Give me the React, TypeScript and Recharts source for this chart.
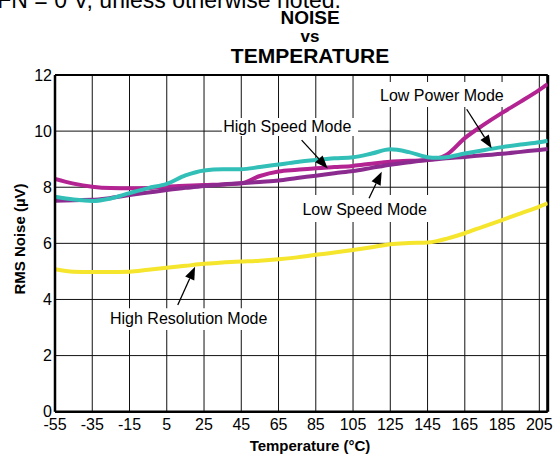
import React from 'react';
import { LineChart, Line, XAxis, YAxis, CartesianGrid, ReferenceLine, ReferenceArea } from 'recharts';

// Temperature (°C) sample points
const temperatures = [-55, -45, -35, -25, -15, -5, 5, 15, 25, 35, 45, 55, 65, 75, 85, 95, 105, 115, 125, 135, 145, 150, 155, 165, 175, 185, 195, 205, 209.5];

// RMS noise (µV) per mode
const lowPowerNoise = [7.66, 7.56, 7.51, 7.6, 7.79, 7.97, 8.12, 8.42, 8.6, 8.64, 8.64, 8.72, 8.81, 8.9, 8.97, 9.03, 9.07, 9.2, 9.35, 9.25, 9.07, 9.05, 9.07, 9.2, 9.32, 9.43, 9.52, 9.6, 9.66];
const highSpeedNoise = [8.3, 8.13, 8.02, 7.97, 7.96, 7.97, 8.02, 8.05, 8.08, 8.1, 8.14, 8.4, 8.56, 8.62, 8.68, 8.72, 8.76, 8.84, 8.91, 8.94, 8.97, 9.02, 9.15, 9.75, 10.22, 10.65, 11.05, 11.47, 11.68];
const lowSpeedNoise = [7.52, 7.54, 7.55, 7.62, 7.72, 7.81, 7.9, 7.98, 8.04, 8.1, 8.14, 8.19, 8.24, 8.33, 8.41, 8.5, 8.58, 8.69, 8.8, 8.89, 8.97, 9.0, 9.03, 9.08, 9.14, 9.19, 9.26, 9.33, 9.36];
const highResolutionNoise = [5.08, 4.99, 4.98, 4.98, 4.99, 5.06, 5.13, 5.2, 5.27, 5.32, 5.35, 5.38, 5.43, 5.5, 5.59, 5.67, 5.76, 5.86, 5.97, 6.01, 6.03, 6.08, 6.16, 6.36, 6.6, 6.83, 7.07, 7.31, 7.43];

const xTicks = [-55, -35, -15, 5, 25, 45, 65, 85, 105, 125, 145, 165, 185, 205];
const yTicks = [0, 2, 4, 6, 8, 10, 12];

const data = temperatures.map((t, i) => ({
  t,
  lowPower: lowPowerNoise[i],
  highSpeed: highSpeedNoise[i],
  lowSpeed: lowSpeedNoise[i],
  highRes: highResolutionNoise[i],
}));

const FONT = '"Liberation Sans", Arial, Helvetica, sans-serif';
const X_MIN = -55;
const X_MAX = 209.5;

// Annotation callouts (label box in data coords, arrow from/to in data coords)
const annotations = [
  { text: 'High Speed Mode', x1: 34.6, x2: 107.7, y1: 9.83, y2: 10.47, padLeft: 1.3, padBottom: 4.3, from: { x: 77.4, y: 9.68 }, to: { x: 91.4, y: 8.67 } },
  { text: 'Low Speed Mode', x1: 75.5, x2: 146.3, y1: 6.76, y2: 7.72, padLeft: 4.3, padBottom: 7, from: { x: 113.6, y: 7.61 }, to: { x: 120.4, y: 8.55 } },
  { text: 'Low Power Mode', x1: 117.9, x2: 185.5, y1: 10.86, y2: 11.75, padLeft: 3, padBottom: 6.3, from: { x: 166.0, y: 10.78 }, to: { x: 179.4, y: 9.39 } },
  { text: 'High Resolution Mode', x1: -27.1, x2: 59.3, y1: 2.91, y2: 3.69, padLeft: 3, padBottom: 6, from: { x: 10.9, y: 3.8 }, to: { x: 20.2, y: 5.17 } },
];

const ArrowShape = (props: any) => {
  const { x1, y1, x2, y2 } = props;
  if ([x1, y1, x2, y2].some((v) => typeof v !== 'number' || isNaN(v))) return <g />;
  const dx = x2 - x1;
  const dy = y2 - y1;
  const len = Math.sqrt(dx * dx + dy * dy) || 1;
  const ux = dx / len;
  const uy = dy / len;
  const headLen = 13;
  const headHalf = 5;
  const bx = x2 - ux * headLen;
  const by = y2 - uy * headLen;
  const px = -uy;
  const py = ux;
  return (
    <g>
      <line x1={x1} y1={y1} x2={bx} y2={by} stroke="#000" strokeWidth={1.3} />
      <polygon
        points={`${x2},${y2} ${bx + px * headHalf},${by + py * headHalf} ${bx - px * headHalf},${by - py * headHalf}`}
        fill="#000"
      />
    </g>
  );
};

const makeLabel = (text: string, padLeft: number, padBottom: number) => (props: any) => {
  const vb = props.viewBox || {};
  const x = (vb.x ?? 0) + padLeft;
  const y = (vb.y ?? 0) + (vb.height ?? 0) - padBottom;
  return (
    <text x={x} y={y} fontFamily={FONT} fontSize={16} fill="#000" textAnchor="start">
      {text}
    </text>
  );
};

export default function App() {
  return (
    <div style={{ position: 'absolute', left: 0, top: 0, width: 558, height: 456, background: '#fff' }}>
      <LineChart
        width={558}
        height={456}
        data={data}
        margin={{ top: 75, right: 10.3, bottom: 14.3, left: 10 }}
      >
        <CartesianGrid stroke="#111" strokeWidth={1} />
        <XAxis
          type="number"
          dataKey="t"
          domain={[X_MIN, X_MAX]}
          ticks={xTicks}
          allowDataOverflow
          height={30}
          tickLine={false}
          tickSize={0}
          tickMargin={7}
          axisLine={{ stroke: '#000', strokeWidth: 2.5 }}
          tick={{ fill: '#000', fontSize: 16, fontFamily: FONT }}
        />
        <YAxis
          type="number"
          domain={[0, 12]}
          ticks={yTicks}
          width={45}
          tickLine={false}
          tickSize={0}
          tickMargin={3}
          axisLine={{ stroke: '#000', strokeWidth: 2.5 }}
          tick={{ fill: '#000', fontSize: 16, fontFamily: FONT }}
        />
        <ReferenceLine y={12} stroke="#000" strokeWidth={2} />
        <ReferenceLine x={X_MAX} stroke="#000" strokeWidth={3} />
        {annotations.map((a) => (
          <ReferenceArea
            key={a.text}
            x1={a.x1}
            x2={a.x2}
            y1={a.y1}
            y2={a.y2}
            fill="#fff"
            fillOpacity={1}
            stroke="none"
            label={makeLabel(a.text, a.padLeft, a.padBottom)}
          />
        ))}
        <Line type="monotone" dataKey="highRes" stroke="#f5e52c" strokeWidth={4} dot={false} isAnimationActive={false} />
        <Line type="monotone" dataKey="highSpeed" stroke="#b32391" strokeWidth={4} dot={false} isAnimationActive={false} />
        <Line type="monotone" dataKey="lowSpeed" stroke="#8c2b8f" strokeWidth={4} dot={false} isAnimationActive={false} />
        <Line type="monotone" dataKey="lowPower" stroke="#31bfb7" strokeWidth={4} dot={false} isAnimationActive={false} />
        {annotations.map((a) => (
          <ReferenceLine key={a.text + '-arrow'} segment={[a.from, a.to]} shape={ArrowShape} />
        ))}
      </LineChart>
      <svg
        width={558}
        height={456}
        style={{ position: 'absolute', left: 0, top: 0, pointerEvents: 'none' }}
      >
        <text x={-50} y={8} fontFamily={FONT} fontSize={23} fill="#000">
          VREFN = 0 V, unless otherwise noted.
        </text>
        <text x={310} y={24} textAnchor="middle" fontFamily={FONT} fontSize={19} fontWeight="bold" fill="#000">
          NOISE
        </text>
        <text x={310} y={41.7} textAnchor="middle" fontFamily={FONT} fontSize={17} fontWeight="bold" fill="#000">
          vs
        </text>
        <text x={310} y={62.7} textAnchor="middle" fontFamily={FONT} fontSize={21} fontWeight="bold" fill="#000">
          TEMPERATURE
        </text>
        <text
          x={25}
          y={239}
          transform="rotate(-90 25 239)"
          textAnchor="middle"
          fontFamily={FONT}
          fontSize={15}
          fontWeight="bold"
          fill="#000"
        >
          RMS Noise (µV)
        </text>
        <text x={310} y={451} textAnchor="middle" fontFamily={FONT} fontSize={15} fontWeight="bold" fill="#000">
          Temperature (°C)
        </text>
      </svg>
    </div>
  );
}
